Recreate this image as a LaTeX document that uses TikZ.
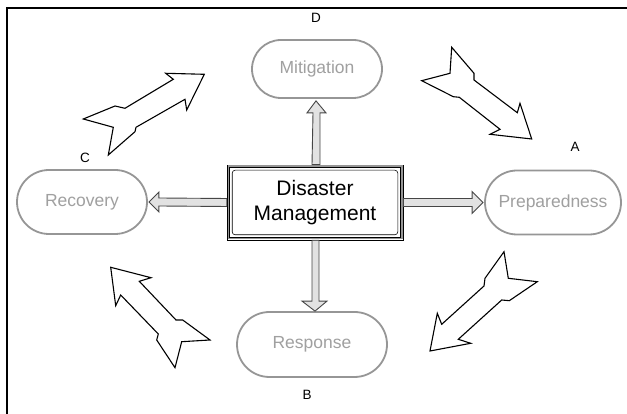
\documentclass[tikz,border=0pt]{standalone}
\usepackage{fontspec}
\setmainfont{Liberation Sans}
\usetikzlibrary{calc,shapes.misc}
\definecolor{phasegray}{RGB}{150,150,150}
\definecolor{phasetext}{RGB}{160,160,160}
\definecolor{blockfill}{RGB}{226,226,226}
\definecolor{blockline}{RGB}{70,70,70}
\begin{document}
\begin{tikzpicture}[x=1pt,y=1pt,
  phase/.style={rounded rectangle, draw=phasegray, line width=1.8pt, fill=white,
    text=phasetext, inner sep=0pt, font=\fontsize{17.5}{20}\selectfont},
  corelabel/.style={font=\fontsize{13.5}{16}\selectfont, text=black, inner sep=0pt},
  blockarrow/.style={fill=blockfill, draw=blockline, line width=0.9pt, line join=miter},
  cyclearrow/.style={fill=white, draw=black, line width=1.1pt, line join=miter}]
\useasboundingbox (0,0) rectangle (627,414);

% frame lines
\draw[line width=1.2pt] (7,0) -- (7,406) -- (627,406);

% the four phases
\node[phase, minimum width=130pt, minimum height=58pt] (mit)  at (317,345)   {Mitigation};
\node[phase, minimum width=136pt, minimum height=64pt] (prep) at (553,211.5) {Preparedness};
\node[phase, minimum width=130pt, minimum height=64pt] (rec)  at (82,212)    {Recovery};
\node[phase, minimum width=150pt, minimum height=65pt] (resp) at (312,69.5)  {Response};

% phase letters
\node[corelabel] (la) at (575,267) {A};
\node[corelabel] (lb) at (307,19)  {B};
\node[corelabel] (lc) at (85,256)  {C};
\node[corelabel] (ld) at (316,396) {D};

% central box with layered border
\node[draw=black, line width=0.6pt, fill=white, minimum width=176pt, minimum height=75pt,
      inner sep=0pt, align=center, font=\fontsize{21}{25}\selectfont] (dm) at (315,211.5)
      {Disaster\\Management};
\draw[phasegray, line width=1.6pt] ($(dm.south west)+(1.6,1.6)$) rectangle ($(dm.north east)+(-1.6,-1.6)$);
\draw[black, line width=0.6pt] ($(dm.south west)+(3,3)$) rectangle ($(dm.north east)+(-3,-3)$);
\draw[black, line width=0.6pt, rounded corners=3pt] ($(dm.south west)+(5.5,5.5)$) rectangle ($(dm.north east)+(-5.5,-5.5)$);

% block arrows from the centre to each phase
\draw[blockarrow] ($(dm.north)+(-3,0)$) -- ($(mit.south)+(-4,-14)$) -- ($(mit.south)+(-10,-14)$)
  -- ($(mit.south)+(-1,-2)$) -- ($(mit.south)+(9,-14)$) -- ($(mit.south)+(3,-14)$) -- ($(dm.north)+(5,0)$) -- cycle;
\draw[blockarrow] ($(dm.south)+(-3,0)$) -- ($(resp.north)+(0,10)$) -- ($(resp.north)+(-10,10)$)
  -- ($(resp.north)+(3,0)$) -- ($(resp.north)+(15,10)$) -- ($(resp.north)+(7,10)$) -- ($(dm.south)+(4,0)$) -- cycle;
\draw[blockarrow] ($(dm.west)+(0,4)$) -- ($(rec.east)+(11,4)$) -- ($(rec.east)+(11,10)$)
  -- ($(rec.east)+(1,0)$) -- ($(rec.east)+(11,-10)$) -- ($(rec.east)+(11,-4)$) -- ($(dm.west)+(0,-4)$) -- cycle;
\draw[blockarrow] ($(dm.east)+(0,4)$) -- ($(prep.west)+(-12,4)$) -- ($(prep.west)+(-12,11)$)
  -- ($(prep.west)+(-1,0)$) -- ($(prep.west)+(-12,-11)$) -- ($(prep.west)+(-12,-4)$) -- ($(dm.east)+(0,-4)$) -- cycle;

% cycle arrows between phases
\draw[cyclearrow] (204.3,339.7) -- (165.7,340.7) -- (173.3,334.7) -- (125,305.7) -- (115,308)
  -- (83.3,295) -- (113.3,286.7) -- (108.3,259) -- (135,282.3) -- (136,286.7) -- (185,314.7)
  -- (186.7,304) -- cycle;
\draw[cyclearrow] (451.7,366.7) -- (450,340.7) -- (421.7,333.3) -- (453.3,317.3) -- (459.3,316.7)
  -- (500,284.7) -- (490,279.7) -- (531.7,275) -- (520,310.7) -- (517.3,301.3) -- (474,334)
  -- (474,340.7) -- cycle;
\draw[cyclearrow] (110.7,146.7) -- (151,136.3) -- (139.3,132.7) -- (176,94) -- (182.7,94)
  -- (210,74) -- (181.7,72.3) -- (175,46.3) -- (156.7,74) -- (158.3,80) -- (120.7,119)
  -- (115.7,108.3) -- cycle;
\draw[cyclearrow] (504,162.3) -- (508.3,135.7) -- (537.3,132.3) -- (509.3,113.3) -- (501.7,114)
  -- (458.3,74.7) -- (470.7,70.7) -- (430,63) -- (437.3,100.7) -- (441.7,89.7) -- (484,128)
  -- (485,135.7) -- cycle;
\end{tikzpicture}
\end{document}
